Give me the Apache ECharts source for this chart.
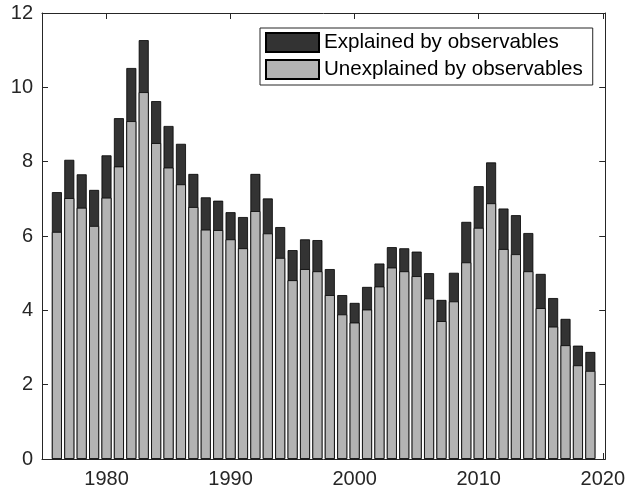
<!DOCTYPE html>
<html>
<head>
<meta charset="utf-8">
<script src="https://cdn.jsdelivr.net/npm/echarts@6/dist/echarts.min.js"></script>
<style>html,body{margin:0;padding:0;background:#fff}#c{width:628px;height:494px}</style>
</head>
<body>
<div id="c"></div>
<script>
const years = [1976,1977,1978,1979,1980,1981,1982,1983,1984,1985,1986,1987,1988,1989,1990,1991,1992,1993,1994,1995,1996,1997,1998,1999,2000,2001,2002,2003,2004,2005,2006,2007,2008,2009,2010,2011,2012,2013,2014,2015,2016,2017,2018,2019];
const unexplained = [6.11,7.02,6.76,6.27,7.03,7.87,9.09,9.87,8.50,7.84,7.39,6.78,6.17,6.16,5.91,5.67,6.67,6.07,5.41,4.81,5.11,5.05,4.41,3.89,3.67,4.02,4.64,5.15,5.05,4.92,4.32,3.71,4.24,5.29,6.22,6.88,5.65,5.51,5.05,4.06,3.56,3.06,2.52,2.37];
const explained = [1.07,1.03,0.90,0.97,1.14,1.30,1.43,1.40,1.13,1.12,1.09,0.89,0.87,0.79,0.73,0.84,1.00,0.94,0.83,0.81,0.80,0.84,0.70,0.52,0.53,0.61,0.62,0.55,0.62,0.66,0.68,0.57,0.77,1.09,1.12,1.10,1.09,1.05,1.03,0.92,0.77,0.71,0.53,0.51];
const xTicks = [1980,1990,2000,2010,2020];
const names = ['Explained by observables','Unexplained by observables'];

const axisColor = '#262626';
const font = 'Liberation Sans, Arial, Helvetica, sans-serif';

const totalData = years.map((y,i)=>[y, +(unexplained[i]+explained[i]).toFixed(2)]);
const unexplData = years.map((y,i)=>[y, unexplained[i]]);

const chart = echarts.init(document.getElementById('c'), null, {renderer:'canvas'});
chart.setOption({
  animation:false,
  backgroundColor:'#fff',
  grid:{left:42, right:22, top:13, bottom:35, containLabel:false},
  legend:{
    data:names.map(n=>({name:n, icon:'rect'})),
    orient:'vertical',
    left:260, top:28,
    padding:[4,10,5,5],
    itemWidth:53, itemHeight:19, itemGap:6,
    backgroundColor:'#fff',
    borderColor:axisColor, borderWidth:1,
    borderRadius:0,
    textStyle:{fontSize:20.6, fontFamily:font, color:'#000', lineHeight:19},
    selectedMode:false
  },
  xAxis:[{
    type:'value', min:1974.8, max:2020.2, position:'bottom',
    axisLine:{show:true, onZero:false, lineStyle:{color:axisColor, width:1}},
    axisTick:{show:true, inside:true, length:6, customValues:xTicks, lineStyle:{color:axisColor}},
    axisLabel:{show:true, customValues:xTicks, fontSize:20, fontFamily:font, color:axisColor, margin:10, formatter:v=>String(v)},
    splitLine:{show:false}
  },{
    type:'value', min:1974.8, max:2020.2, position:'top',
    axisLine:{show:true, onZero:false, lineStyle:{color:axisColor, width:1}},
    axisTick:{show:true, inside:true, length:6, customValues:xTicks, lineStyle:{color:axisColor}},
    axisLabel:{show:false},
    splitLine:{show:false}
  }],
  yAxis:[{
    type:'value', min:0, max:12, interval:2, position:'left',
    axisLine:{show:true, onZero:false, lineStyle:{color:axisColor, width:1}},
    axisTick:{show:true, inside:true, length:6, lineStyle:{color:axisColor}},
    axisLabel:{fontSize:20, fontFamily:font, color:axisColor, margin:9},
    splitLine:{show:false}
  },{
    type:'value', min:0, max:12, interval:2, position:'right',
    axisLine:{show:true, onZero:false, lineStyle:{color:axisColor, width:1}},
    axisTick:{show:true, inside:true, length:6, lineStyle:{color:axisColor}},
    axisLabel:{show:false},
    splitLine:{show:false}
  }],
  series:[{
    name:names[0], type:'bar', xAxisIndex:0, yAxisIndex:0,
    data:totalData, barWidth:10, barGap:'-100%',
    itemStyle:{color:'#333333', borderColor:'#000', borderWidth:0.8}
  },{
    name:names[1], type:'bar', xAxisIndex:0, yAxisIndex:0,
    data:unexplData, barWidth:10, barGap:'-100%',
    itemStyle:{color:'#b3b3b3', borderColor:'#000', borderWidth:0.8}
  }]
});
</script>
</body>
</html>
